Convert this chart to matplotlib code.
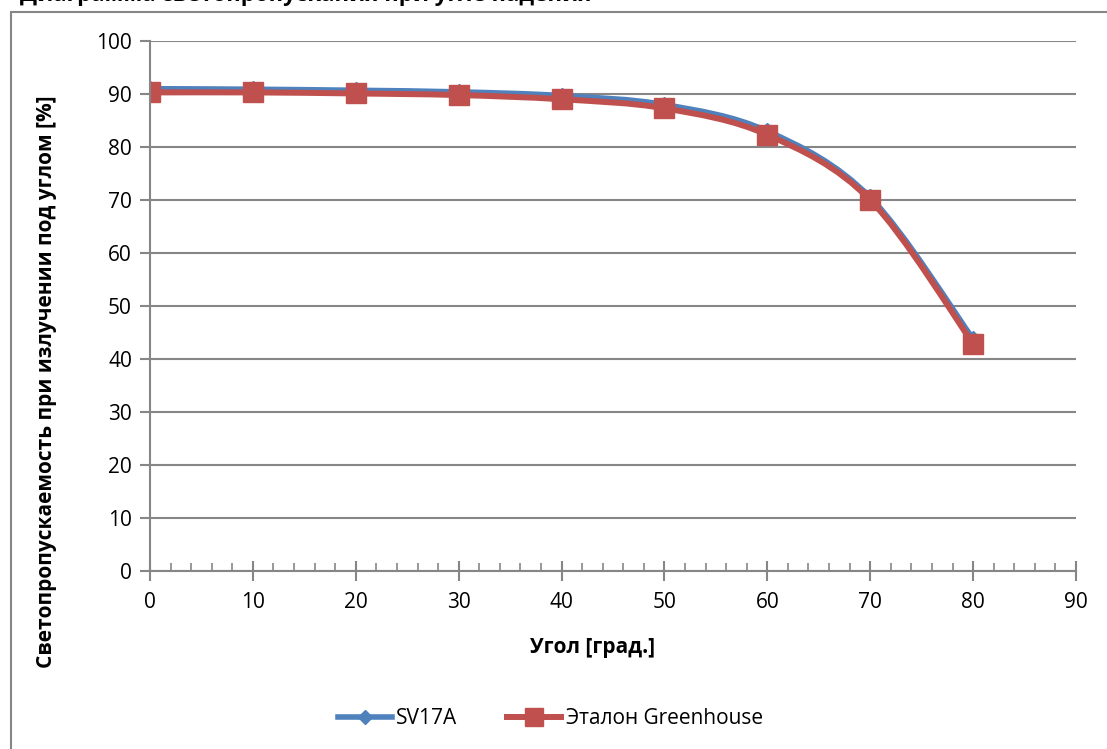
import matplotlib
matplotlib.use("Agg")
import matplotlib.pyplot as plt
from matplotlib.path import Path
from matplotlib.patches import PathPatch, Rectangle
from matplotlib.lines import Line2D
from matplotlib.ticker import MultipleLocator

plt.rcParams['font.family'] = ['Open Sans', 'DejaVu Sans']

# Данные
angles = [0, 10, 20, 30, 40, 50, 60, 70, 80]
sv17a = [91.0, 90.9, 90.7, 90.4, 89.7, 88.0, 83.0, 70.5, 43.8]
etalon = [90.3, 90.3, 90.1, 89.8, 89.0, 87.3, 82.3, 70.0, 42.9]
labels = ['SV17A', 'Эталон Greenhouse']
colors = ['#4F81BD', '#C0504D']

title = 'Диаграмма светопропускания при угле падения'
xlabel = 'Угол [град.]'
ylabel = 'Светопропускаемость при излучении под углом [%]'


# Сглаженная линия как в Excel (кривые Безье)
def smooth_path(x, y):
    pts = list(zip(x, y))
    verts = [pts[0]]
    codes = [Path.MOVETO]
    n = len(pts)
    for i in range(n - 1):
        p0 = pts[i - 1] if i > 0 else pts[i]
        p1 = pts[i]
        p2 = pts[i + 1]
        p3 = pts[i + 2] if i + 2 < n else pts[i + 1]
        c1 = (p1[0] + (p2[0] - p0[0]) / 6, p1[1] + (p2[1] - p0[1]) / 6)
        c2 = (p2[0] - (p3[0] - p1[0]) / 6, p2[1] - (p3[1] - p1[1]) / 6)
        verts += [c1, c2, p2]
        codes += [Path.CURVE4] * 3
    return Path(verts, codes)


fig = plt.figure(figsize=(11.07, 7.49), dpi=100)
ax = fig.add_axes([150 / 1107, 178 / 749, 926 / 1107, 530 / 749])

# рамка диаграммы
fig.patches.append(Rectangle((11 / 1107, -0.1), 1.2, 1 - 12 / 749 + 0.1,
                             transform=fig.transFigure, fill=False,
                             edgecolor='#868686', linewidth=1.5))
# заголовок, обрезанный верхним краем (как на исходной картинке)
fig.text(20 / 1107, 1 - 1.5 / 749, title, fontsize=16, fontweight='bold',
         va='baseline', ha='left')

specs = [
    dict(marker='D', ms=8, lw=4.0),
    dict(marker='s', ms=15, lw=4.3),
]
series = [sv17a, etalon]
for vals, col, sp in zip(series, colors, specs):
    ax.add_patch(PathPatch(smooth_path(angles, vals), fill=False,
                           edgecolor=col, lw=sp['lw'], capstyle='round'))
    ax.plot(angles, vals, linestyle='none', marker=sp['marker'],
            ms=sp['ms'], color=col, mec=col)

ax.set_xlim(0, 90)
ax.set_ylim(0, 100)
ax.xaxis.set_major_locator(MultipleLocator(10))
ax.xaxis.set_minor_locator(MultipleLocator(2))
ax.yaxis.set_major_locator(MultipleLocator(10))

ax.grid(axis='y', color='#868686', linewidth=1.5)
ax.set_axisbelow(True)
for s in ['top', 'right']:
    ax.spines[s].set_visible(False)
for s in ['left', 'bottom']:
    ax.spines[s].set_color('#868686')
    ax.spines[s].set_linewidth(1.5)

ax.tick_params(axis='x', which='major', direction='inout', length=14,
               width=1.5, color='#868686', labelsize=15, pad=8)
ax.tick_params(axis='x', which='minor', direction='in', length=6,
               width=1.2, color='#868686')
ax.tick_params(axis='y', direction='out', length=7, width=1.5,
               color='#868686', labelsize=15, pad=6)

ax.set_xlabel(xlabel, fontsize=15, fontweight='bold')
ax.set_ylabel(ylabel, fontsize=15, fontweight='bold')
ax.xaxis.set_label_coords(0.478, -0.124)
ax.yaxis.set_label_coords(-0.100, 0.357)

handles = [Line2D([], [], color=c, lw=sp['lw'], marker=sp['marker'],
                  ms=sp['ms'] * 0.9)
           for c, sp in zip(colors, specs)]
fig.legend(handles, labels, loc='center', bbox_to_anchor=(0.497, 1 - 719 / 749),
           ncol=2, frameon=False, fontsize=15, handlelength=2.6,
           columnspacing=2.4, handletextpad=0.2)

fig.savefig('out.png', dpi=100)
